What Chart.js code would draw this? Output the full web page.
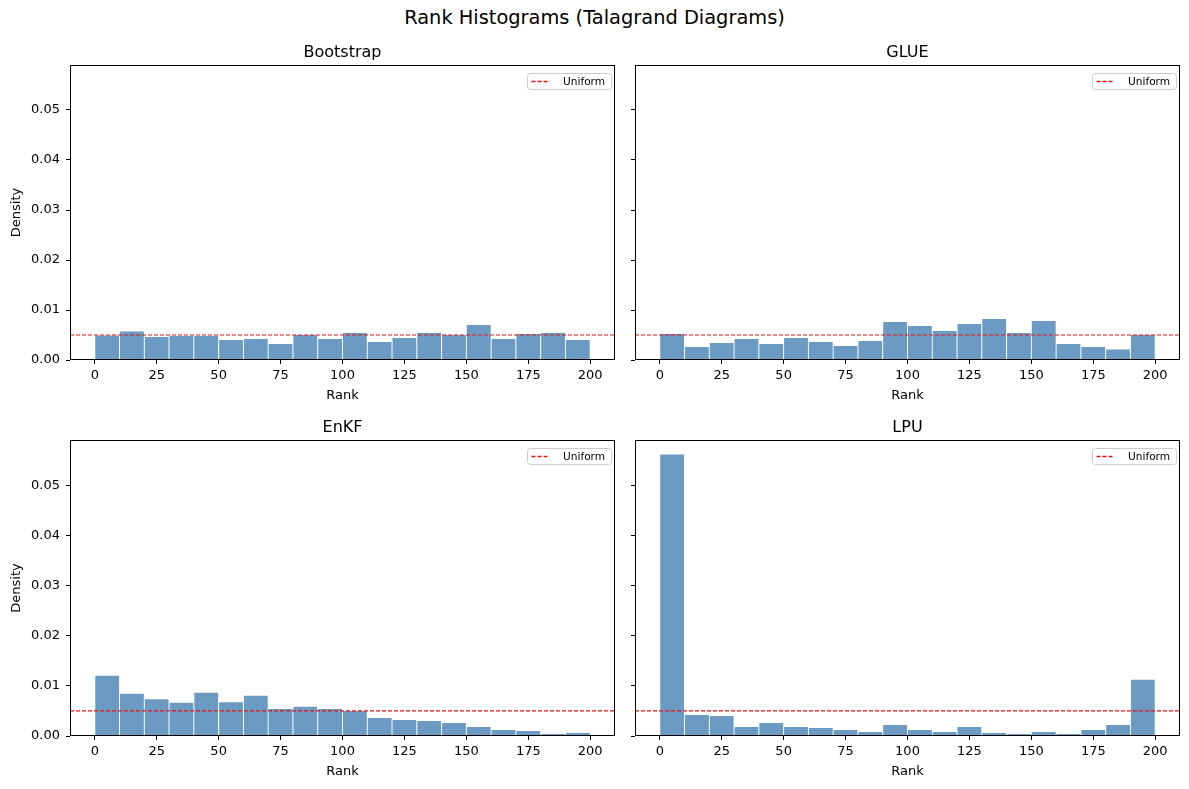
<!DOCTYPE html>
<html>
<head>
<meta charset="utf-8">
<script src="https://cdn.jsdelivr.net/npm/chart.js@4.4.0/dist/chart.umd.min.js"></script>
<style>
  body { margin: 0; background: #fff; width: 1189px; height: 789px; position: relative; overflow: hidden; font-family: 'DejaVu Sans', sans-serif; }
  #suptitle { position: absolute; left: 0; top: 7px; width: 1189px; line-height: 22px; text-align: center; font-size: 19.4px; color: #000; }
  .panel { position: absolute; }
</style>
</head>
<body>
<div id="suptitle">Rank Histograms (Talagrand Diagrams)</div>
<div class="panel" style="left:0;top:30px;width:620px;height:375px"><canvas id="c0"></canvas></div>
<div class="panel" style="left:625px;top:30px;width:560px;height:375px"><canvas id="c1"></canvas></div>
<div class="panel" style="left:0;top:405px;width:620px;height:376px"><canvas id="c2"></canvas></div>
<div class="panel" style="left:625px;top:405px;width:560px;height:376px"><canvas id="c3"></canvas></div>
<script>
// bin centres (bin width 10, ranks 0..200)
const binCenters = [5, 15, 25, 35, 45, 55, 65, 75, 85, 95, 105, 115, 125, 135, 145, 155, 165, 175, 185, 195];

// density per bin
const bootstrap = [0.0050, 0.0058, 0.0047, 0.0049, 0.0049, 0.0041, 0.0043, 0.0033, 0.0051, 0.0043,
                   0.0055, 0.0037, 0.0045, 0.0055, 0.0051, 0.0071, 0.0043, 0.0053, 0.0055, 0.0041];
const glue = [0.0053, 0.0027, 0.0035, 0.0043, 0.0033, 0.0045, 0.0037, 0.0029, 0.0039, 0.0077,
              0.0069, 0.0059, 0.0073, 0.0083, 0.0055, 0.0079, 0.0033, 0.0027, 0.0022, 0.0051];
const enkf = [0.0121, 0.0085, 0.0074, 0.0067, 0.0087, 0.0068, 0.0081, 0.0055, 0.0059, 0.0055,
              0.0051, 0.0037, 0.0033, 0.0031, 0.0027, 0.0019, 0.0013, 0.0011, 0.0005, 0.0007];
const lpu = [0.0562, 0.0043, 0.0041, 0.0019, 0.0027, 0.0019, 0.0017, 0.0013, 0.0009, 0.0023,
             0.0013, 0.0009, 0.0019, 0.0007, 0.0005, 0.0009, 0.0005, 0.0013, 0.0023, 0.0113];

const uniformDensity = 0.005;
const xTicks = [0, 25, 50, 75, 100, 125, 150, 175, 200];
const yTicks = [0, 0.01, 0.02, 0.03, 0.04, 0.05];

const lineRed = 'rgb(225,20,20)';

// axes box, subplot title and legend, matplotlib style
const framePlugin = {
  id: 'frame',
  afterDraw(chart, args, opts) {
    const { ctx, chartArea: a } = chart;
    ctx.save();
    ctx.strokeStyle = '#000';
    ctx.lineWidth = 1;
    ctx.strokeRect(a.left + 0.5, a.top + 0.5, a.right - a.left - 1, a.bottom - a.top - 1);

    // title centred over the axes
    ctx.fillStyle = '#000';
    ctx.font = '16px "DejaVu Sans"';
    ctx.textAlign = 'center';
    ctx.textBaseline = 'alphabetic';
    ctx.fillText(opts.title, (a.left + a.right) / 2, a.top - 8.3);

    // legend box
    ctx.textAlign = 'left';
    ctx.font = '10.6px "DejaVu Sans"';
    const label = 'Uniform';
    const tw = ctx.measureText(label).width;
    const w = 4 + 17 + 15 + tw + 6;
    const h = 16;
    const x0 = Math.round(a.right - 4 - w);
    const y0 = Math.round(a.top + 8) + 0.5;
    ctx.beginPath();
    ctx.roundRect(x0 + 0.5, y0, w, h, 3);
    ctx.fillStyle = 'rgba(255,255,255,0.8)';
    ctx.fill();
    ctx.strokeStyle = '#cccccc';
    ctx.stroke();

    // legend sample line
    ctx.beginPath();
    ctx.lineWidth = 1.3;
    ctx.setLineDash([4, 2]);
    ctx.strokeStyle = lineRed;
    ctx.moveTo(x0 + 4.5, y0 + h / 2);
    ctx.lineTo(x0 + 21.5, y0 + h / 2);
    ctx.stroke();
    ctx.setLineDash([]);

    ctx.fillStyle = '#000';
    ctx.textBaseline = 'middle';
    ctx.fillText(label, x0 + 36, y0 + h / 2 + 0.5);
    ctx.restore();
  }
};

function makeChart(id, title, values, showY) {
  return new Chart(document.getElementById(id), {
    type: 'bar',
    data: {
      datasets: [
        {
          type: 'line',
          label: 'Uniform',
          data: [{ x: -10, y: uniformDensity }, { x: 210, y: uniformDensity }],
          borderColor: lineRed,
          borderWidth: 1.2,
          borderDash: [4, 2],
          pointRadius: 0,
          order: 0,
        },
        {
          type: 'bar',
          label: title,
          data: binCenters.map((x, i) => ({ x, y: values[i] })),
          backgroundColor: 'rgba(70,130,180,0.8)',
          borderColor: '#ffffff',
          borderWidth: 0.8,
          barPercentage: 1,
          categoryPercentage: 1,
          order: 1,
        },
      ],
    },
    options: {
      responsive: true,
      maintainAspectRatio: false,
      animation: false,
      layout: { padding: { left: 0, right: 5, top: 35, bottom: 0 } },
      plugins: {
        legend: { display: false },
        tooltip: { enabled: false },
        title: { display: false },
        frame: { title },
      },
      scales: {
        x: {
          type: 'linear',
          min: -10,
          max: 210,
          offset: false,
          grid: { drawOnChartArea: false, color: '#000', tickLength: 4, offset: false },
          border: { display: false },
          afterBuildTicks: (s) => { s.ticks = xTicks.map((v) => ({ value: v })); },
          afterFit: (s) => { s.height = 45; },
          ticks: { color: '#000', font: { family: 'DejaVu Sans', size: 13 }, padding: 4, maxRotation: 0 },
          title: { display: true, text: 'Rank', color: '#000', font: { family: 'DejaVu Sans', size: 13 }, padding: { top: 0, bottom: 2 } },
        },
        y: {
          type: 'linear',
          min: 0,
          max: 0.059,
          grid: { drawOnChartArea: false, color: '#000', tickLength: 4 },
          border: { display: false },
          afterBuildTicks: (s) => { s.ticks = yTicks.map((v) => ({ value: v })); },
          afterFit: (s) => { s.width = showY ? 70 : 10; },
          ticks: {
            color: showY ? '#000' : 'rgba(0,0,0,0)',
            font: { family: 'DejaVu Sans', size: 13 },
            padding: 6,
            callback: (v) => v.toFixed(2),
          },
          title: { display: showY, text: 'Density', color: '#000', font: { family: 'DejaVu Sans', size: 13 }, padding: { top: 9, bottom: 0 } },
        },
      },
    },
    plugins: [framePlugin],
  });
}

makeChart('c0', 'Bootstrap', bootstrap, true);
makeChart('c1', 'GLUE', glue, false);
makeChart('c2', 'EnKF', enkf, true);
makeChart('c3', 'LPU', lpu, false);
</script>
</body>
</html>
